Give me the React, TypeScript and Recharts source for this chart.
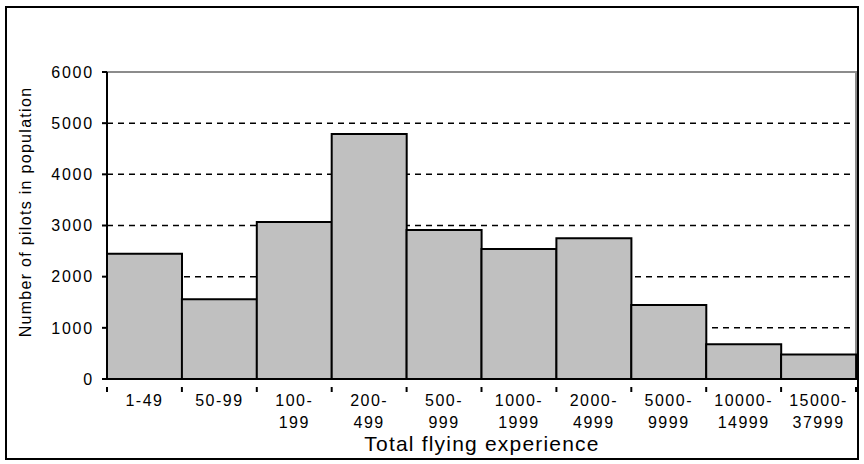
import React from 'react';
import {
  BarChart,
  Bar,
  XAxis,
  YAxis,
  CartesianGrid,
  ReferenceArea,
} from 'recharts';

const categories = [
  '1-49',
  '50-99',
  '100-199',
  '200-499',
  '500-999',
  '1000-1999',
  '2000-4999',
  '5000-9999',
  '10000-14999',
  '15000-37999',
];
const pilots = [2450, 1560, 3070, 4790, 2910, 2540, 2750, 1445, 680, 480];
const yTicks = [0, 1000, 2000, 3000, 4000, 5000, 6000];

const data = categories.map((range, i) => ({ range, pilots: pilots[i] }));

const WIDTH = 864;
const HEIGHT = 464;
const MARGIN = { top: 72, right: 8, bottom: 0, left: 0 };
const Y_AXIS_WIDTH = 107;
const X_AXIS_HEIGHT = 85;
const FONT = '"Liberation Sans", Arial, sans-serif';
const BAND = (WIDTH - MARGIN.left - MARGIN.right - Y_AXIS_WIDTH) / categories.length;

interface TickProps {
  x?: number;
  y?: number;
  index?: number;
  payload?: { value: string; offset?: number };
}

function RangeTick({ x = 0, y = 0, index = 0, payload }: TickProps) {
  const value = payload?.value ?? '';
  const dash = value.indexOf('-');
  const lines = dash > 0 && value.length > 5
    ? [value.slice(0, dash + 1), value.slice(dash + 1)]
    : [value];
  const half = payload?.offset || BAND / 2;
  return (
    <g>
      <line x1={x - half} x2={x - half} y1={y} y2={y + 5} stroke="#000" strokeWidth={2} />
      {index === categories.length - 1 && (
        <line x1={x + half} x2={x + half} y1={y} y2={y + 5} stroke="#000" strokeWidth={2} />
      )}
      <text
        x={x}
        textAnchor="middle"
        fontFamily={FONT}
        fontSize={16}
        letterSpacing={1.5}
        fill="#000"
      >
        {lines.map((l, i) => (
          <tspan key={i} x={x} y={y + 19 + i * 22}>
            {l}
          </tspan>
        ))}
      </text>
    </g>
  );
}

export default function App() {
  return (
    <div style={{ position: 'absolute', left: 0, top: 0, width: WIDTH, height: HEIGHT, background: '#fff' }}>
      <BarChart
        width={WIDTH}
        height={HEIGHT}
        data={data}
        margin={MARGIN}
        barCategoryGap={0}
        barGap={0}
      >
        <CartesianGrid
          vertical={false}
          stroke="#000"
          strokeWidth={1.5}
          strokeDasharray="6 5"
        />
        <XAxis
          dataKey="range"
          height={X_AXIS_HEIGHT}
          interval={0}
          tickLine={false}
          axisLine={{ stroke: '#000', strokeWidth: 2 }}
          tick={<RangeTick />}
          label={{
            content: () => (
              <text
                x={482}
                y={451}
                textAnchor="middle"
                fontFamily={FONT}
                fontSize={21}
                letterSpacing={1.2}
                fill="#000"
              >
                Total flying experience
              </text>
            ),
          }}
        />
        <YAxis
          width={Y_AXIS_WIDTH}
          domain={[0, 6000]}
          ticks={yTicks}
          interval={0}
          tickSize={5}
          tickMargin={8}
          tickLine={{ stroke: '#000', strokeWidth: 2 }}
          axisLine={{ stroke: '#000', strokeWidth: 2 }}
          tick={{ fill: '#000', fontSize: 16, fontFamily: FONT, letterSpacing: 1.8 }}
          label={{
            content: () => (
              <text
                x={25}
                y={212}
                transform="rotate(-90 25 212)"
                textAnchor="middle"
                dominantBaseline="central"
                fontFamily={FONT}
                fontSize={16}
                letterSpacing={1.3}
                fill="#000"
              >
                Number of pilots in population
              </text>
            ),
          }}
        />
        <ReferenceArea
          x1={categories[0]}
          x2={categories[categories.length - 1]}
          y1={0}
          y2={6000}
          fill="none"
          fillOpacity={0}
          stroke="#8c8c8c"
          strokeWidth={2}
          ifOverflow="visible"
        />
        <Bar
          dataKey="pilots"
          fill="#c0c0c0"
          stroke="#000"
          strokeWidth={2}
          isAnimationActive={false}
        />
      </BarChart>
      <div
        style={{
          position: 'absolute',
          left: 5,
          top: 6,
          width: 854,
          height: 454,
          border: '2px solid #000',
          boxSizing: 'border-box',
          pointerEvents: 'none',
        }}
      />
    </div>
  );
}
